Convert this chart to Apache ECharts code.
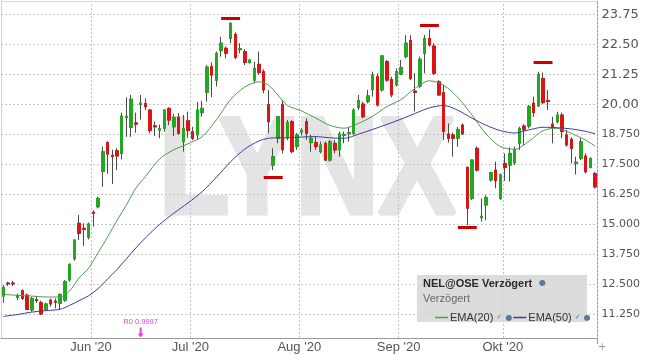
<!DOCTYPE html>
<html><head><meta charset="utf-8">
<script src="https://cdn.jsdelivr.net/npm/echarts@6/dist/echarts.min.js"></script>
<style>html,body{margin:0;padding:0;background:#fff}#c{width:645px;height:358px}</style>
</head><body><div id="c"></div>
<script>
// ---------- DATA ----------
const dates = [
'2020-05-04','2020-05-05','2020-05-06','2020-05-07','2020-05-08','2020-05-11','2020-05-12','2020-05-13','2020-05-14','2020-05-15',
'2020-05-18','2020-05-19','2020-05-20','2020-05-22','2020-05-25','2020-05-26','2020-05-27','2020-05-28','2020-05-29',
'2020-06-02','2020-06-03','2020-06-04','2020-06-05','2020-06-08','2020-06-09','2020-06-10','2020-06-11','2020-06-12','2020-06-15',
'2020-06-16','2020-06-17','2020-06-18','2020-06-19','2020-06-22','2020-06-23','2020-06-24','2020-06-25','2020-06-26','2020-06-29','2020-06-30',
'2020-07-01','2020-07-02','2020-07-03','2020-07-06','2020-07-07','2020-07-08','2020-07-09','2020-07-10','2020-07-13','2020-07-14',
'2020-07-15','2020-07-16','2020-07-17','2020-07-20','2020-07-21','2020-07-22','2020-07-23','2020-07-24','2020-07-27','2020-07-28',
'2020-07-29','2020-07-30','2020-07-31',
'2020-08-03','2020-08-04','2020-08-05','2020-08-06','2020-08-07','2020-08-10','2020-08-11','2020-08-12','2020-08-13','2020-08-14',
'2020-08-17','2020-08-18','2020-08-19','2020-08-20','2020-08-21','2020-08-24','2020-08-25','2020-08-26','2020-08-27','2020-08-28','2020-08-31',
'2020-09-01','2020-09-02','2020-09-03','2020-09-04','2020-09-07','2020-09-08','2020-09-09','2020-09-10','2020-09-11','2020-09-14',
'2020-09-15','2020-09-16','2020-09-17','2020-09-18','2020-09-21','2020-09-22','2020-09-23','2020-09-24','2020-09-25','2020-09-28',
'2020-09-29','2020-09-30',
'2020-10-01','2020-10-02','2020-10-05','2020-10-06','2020-10-07','2020-10-08','2020-10-09','2020-10-12','2020-10-13','2020-10-14',
'2020-10-15','2020-10-16','2020-10-19','2020-10-20','2020-10-21','2020-10-22','2020-10-23','2020-10-26','2020-10-27','2020-10-28'
];
const openP = [
11.99,12.53,12.53,11.93,12.21,12.03,11.41,11.84,11.71,11.43,11.82,11.77,11.69,11.82,12.66,13.54,15.03,14.82,14.45,
15.49,15.72,17.19,18.40,17.87,18.06,17.95,19.45,19.04,19.22,20.00,20.03,19.76,19.10,18.92,19.00,19.83,19.06,19.46,18.44,19.31,
18.85,18.72,19.65,20.50,21.57,21.00,22.24,22.34,22.75,22.92,22.28,22.20,21.74,21.01,21.67,21.36,19.98,17.46,18.58,20.00,18.62,19.27,18.23,
18.84,19.27,18.40,18.40,18.02,18.37,17.67,18.37,18.09,18.70,18.77,18.79,19.87,20.01,20.11,20.62,21.15,20.60,21.78,21.04,20.81,
21.26,21.99,22.66,20.55,20.76,22.13,22.75,22.43,20.94,20.49,18.76,18.72,18.58,19.13,17.37,16.07,18.16,15.28,15.79,16.84,17.25,16.07,
17.53,17.46,17.55,18.37,19.09,19.09,20.04,19.93,21.08,20.16,19.17,19.27,19.55,18.72,18.54,17.53,17.74,17.84,17.36,17.11
];
const closeP = [
12.35,12.50,12.50,12.00,11.89,11.43,11.89,11.80,11.24,11.66,11.66,11.73,12.06,12.59,13.31,14.33,14.61,14.78,15.00,
15.45,16.07,18.02,17.92,17.82,17.84,19.51,19.50,20.21,19.17,20.05,19.90,18.90,19.06,18.98,19.76,19.34,19.45,18.79,18.99,18.90,
18.58,19.76,19.83,21.55,21.22,22.13,22.55,22.13,23.38,21.96,22.32,21.75,21.85,21.50,21.33,20.60,19.27,17.81,19.48,18.10,19.23,18.02,18.72,
18.90,18.79,18.58,18.23,18.30,17.67,18.44,18.09,18.76,18.74,18.81,19.76,20.15,19.48,20.35,21.22,19.97,22.02,21.01,20.39,21.36,
21.54,22.55,21.08,20.50,21.88,22.75,22.48,21.29,20.39,18.86,18.58,18.58,18.95,18.76,15.66,17.67,17.25,15.32,16.11,17.14,16.81,17.05,
17.36,17.95,18.10,18.99,18.93,19.90,19.65,21.26,20.07,20.12,19.03,19.55,18.86,18.30,18.16,17.58,18.44,17.18,17.74,16.55
];
const lowP = [
11.71,12.41,12.41,11.82,11.82,11.41,11.34,11.71,11.20,11.38,11.55,11.48,11.41,11.75,12.59,13.47,14.33,14.08,14.36,
14.89,15.65,16.56,17.10,16.67,17.25,17.70,18.64,18.64,18.81,19.37,19.76,18.79,18.68,18.58,18.86,19.13,18.68,18.72,18.02,18.60,
18.50,18.50,19.48,20.11,20.30,20.74,21.99,21.92,22.55,21.88,22.13,21.64,21.70,20.87,21.22,20.46,18.79,17.25,18.37,17.95,18.50,17.95,18.10,
18.70,18.51,18.02,18.09,17.95,17.64,17.60,17.95,17.81,18.37,18.44,18.72,19.76,19.41,20.04,20.32,19.90,20.53,20.94,20.29,20.74,
21.22,21.92,21.01,19.70,20.67,21.29,22.41,21.22,20.35,18.51,18.40,17.81,18.23,18.72,14.96,16.00,17.19,15.10,15.16,16.77,16.49,16.00,
16.80,16.77,17.46,18.09,18.30,18.99,19.48,19.90,20.01,19.76,18.37,19.20,18.58,18.23,17.53,17.07,17.67,17.11,17.32,16.48
];
const highP = [
12.45,12.59,12.63,12.10,12.27,12.10,11.96,11.96,11.80,11.71,11.89,11.89,12.10,12.66,13.36,14.36,15.38,15.03,15.06,
15.58,16.14,18.23,18.45,18.10,18.16,19.65,20.29,20.39,19.65,20.39,20.25,19.79,19.28,19.15,19.79,19.87,19.59,19.63,19.55,19.69,
19.06,20.10,20.15,21.64,21.75,22.20,22.82,22.41,23.42,23.00,22.55,22.30,21.90,21.78,22.20,21.46,20.60,18.16,19.51,20.18,19.34,19.34,18.80,
19.00,19.41,18.72,18.65,18.44,18.44,18.51,18.51,18.86,18.86,19.06,19.83,20.39,20.11,20.60,21.36,21.29,22.06,21.85,21.15,21.50,
21.85,22.89,22.89,21.30,21.99,22.89,23.13,22.55,21.01,20.81,19.20,18.82,19.06,19.20,17.39,17.70,18.23,16.07,16.20,17.18,17.60,17.11,
17.95,18.20,18.23,19.06,19.17,19.97,20.32,21.36,21.32,20.59,19.48,19.69,19.65,18.93,18.62,17.81,18.58,17.95,17.78,17.18
];
// EMA readings (sampled candles)
const emaIdx  = [0,3,6,9,12,14,16,18,20,22,24,26,28,30,33,36,39,42,45,48,51,54,56,58,60,63,66,69,72,75,78,81,84,87,90,93,96,99,102,105,108,111,114,117,120,123,125];
const ema20Val = [12.06,12.02,11.99,11.95,11.95,12.2,12.75,13.15,13.8,14.45,15.15,15.8,16.5,16.98,17.72,18.1,18.35,18.65,19.35,20.2,20.72,20.94,20.8,20.38,19.95,19.72,19.42,19.12,19.0,19.2,19.5,19.9,20.2,20.67,20.98,20.8,20.28,19.55,18.75,18.23,18.12,18.45,18.9,19.0,18.78,18.5,18.25];
const ema50Val = [11.14,11.22,11.32,11.38,11.44,11.6,11.8,12.0,12.3,12.7,13.1,13.55,14.0,14.42,14.98,15.45,15.88,16.35,16.95,17.6,18.13,18.47,18.58,18.6,18.6,18.63,18.65,18.6,18.58,18.75,18.95,19.16,19.38,19.62,19.85,19.95,19.75,19.42,19.12,18.9,18.8,18.93,19.04,19.02,18.97,18.87,18.77];
// red high/low markers: [startIdx, endIdx, value]
const markerStart = [46, 55, 88, 112, 96];
const markerEnd   = [50, 59, 92, 116, 100];
const markerValue = [23.60, 16.95, 23.32, 21.77, 14.85];
// annotation
const annotIdx = 29, annotValue = 10.47, annotText = 'R0 0.9997';
// axis labels
const yTickValues = [11.25, 12.5, 13.75, 15, 16.25, 17.5, 18.75, 20, 21.25, 22.5, 23.75];
const yTickLabels = ['11.250','12.500','13.750','15.000','16.250','17.500','18.750','20.00','21.25','22.50','23.75'];
const monthNames = ["Jun '20","Jul '20","Aug '20","Sep '20","Okt '20"];

// ---------- BUILD ----------
const monthStart = {};
let mi = 0;
for (let i = 1; i < dates.length; i++) {
  if (dates[i].slice(5,7) !== dates[i-1].slice(5,7)) monthStart[i] = monthNames[mi++];
}
const wickData = dates.map((d,i)=>[openP[i], closeP[i], lowP[i], highP[i]]);
const bodyData = dates.map((d,i)=>[openP[i], closeP[i], Math.min(openP[i],closeP[i]), Math.max(openP[i],closeP[i])]);
const ema20 = dates.map(()=>'-'); const ema50 = dates.map(()=>'-');
emaIdx.forEach((k,j)=>{ ema20[k]=ema20Val[j]; ema50[k]=ema50Val[j]; });
const markLines = markerStart.map((s,j)=>[{coord:[s, markerValue[j]]},{coord:[markerEnd[j], markerValue[j]]}]);

const GREEN = '#23a823', RED = '#dc1414';
const chart = echarts.init(document.getElementById('c'));
chart.setOption({
  animation: false,
  backgroundColor: '#fff',
  grid: { left: 1, right: 47.5, top: 1.33, bottom: 14.3 },
  xAxis: {
    type: 'category', data: dates, boundaryGap: true, offset: -5.7,
    axisLine: { show: true, onZero: false, lineStyle: { color: '#9a9a9a', width: 1 } },
    axisTick: { show: true, inside: true, length: 337, interval: (i)=> monthStart[i] !== undefined,
                lineStyle: { color: '#c4c4c4', type: [2,2], width: 1 } },
    splitLine: { show: false },
    axisLabel: { interval: (i)=> monthStart[i] !== undefined, formatter: (v,i)=> monthStart[i] || '',
                 color: '#555', fontFamily: 'Liberation Sans', fontSize: 13, margin: 3, padding: [0, 4.7, 0, 0] }
  },
  yAxis: {
    type: 'value', position: 'right', min: 10, max: 24.3, interval: 1.25,
    axisLine: { show: true, lineStyle: { color: '#9a9a9a' } },
    axisTick: { show: false },
    splitLine: { show: true, showMinLine: false, showMaxLine: false, lineStyle: { color: '#c8c8c8', type: [2,2] } },
    axisLabel: {
      margin: 4, color: '#555',
      formatter: (v)=>{ const k = yTickValues.findIndex(t=>Math.abs(t-v)<1e-6); if (k<0) return ''; const s = yTickLabels[k]; return s.length>5 ? '{b|'+s+'}' : '{a|'+s+'}'; },
      rich: { a: { fontFamily: 'DejaVu Sans', fontSize: 13, color: '#555' }, b: { fontFamily: 'DejaVu Sans', fontSize: 11, color: '#555' } }
    }
  },
  legend: {
    z: 30, zlevel: 0,
    data: ['EMA(20)','EMA(50)'], left: 430, top: 307, itemWidth: 13, itemHeight: 1.5, itemGap: 1, icon: 'rect',
    selectedMode: false,
    formatter: (n)=> n + ' {k|✓} {o|●}',
    textStyle: { fontFamily: 'Liberation Sans', fontSize: 11, color: '#333', padding: [0,0,0,-3],
      rich: { k: { fontFamily: 'DejaVu Sans', fontSize: 7, color: '#4a7cc4' }, o: { fontFamily: 'DejaVu Sans', fontSize: 8, color: '#5a7898' } } }
  },
  graphic: [
    { type: 'text', z: -10, left: 157, top: 104, style: { text: 'LYNX', font: 'bold 137px "Liberation Sans"', fill: '#e4e4e4', stroke: '#e4e4e4', lineWidth: 5 }, scaleX: 0.84 },
    { type: 'line', z: 10, shape: { x1: 1.5, y1: 0, x2: 1.5, y2: 338 }, style: { stroke: '#d0d0d0', lineWidth: 1 } },
    { type: 'line', z: 10, shape: { x1: 1, y1: 1.5, x2: 597, y2: 1.5 }, style: { stroke: '#d8d8d8', lineWidth: 1 } },
    { type: 'rect', z: 20, shape: { x: 417, y: 275, width: 170, height: 47 }, style: { fill: 'rgba(214,214,214,0.85)' } },
    { type: 'text', z: 21, left: 423, top: 278, style: { text: 'NEL@OSE Verzögert', font: 'bold 11px "Liberation Sans"', fill: '#2a2a2a' } },
    { type: 'text', z: 21, left: 539, top: 279, style: { text: '●', font: '8px "DejaVu Sans"', fill: '#5a7898' } },
    { type: 'text', z: 21, left: 423, top: 293, style: { text: 'Verzögert', font: '11px "Liberation Sans"', fill: '#666' } },
    { type: 'text', z: 21, left: 598, top: 342, style: { text: '+', font: '10px "DejaVu Sans"', fill: '#999' } }
  ],
  series: [
    { name: 'wick', type: 'candlestick', data: wickData, barWidth: 3, z: 2,
      itemStyle: { color: '#4a4a4a', color0: '#4a4a4a', borderColor: '#4a4a4a', borderColor0: '#4a4a4a', borderWidth: 1 },
      markLine: { silent: true, symbol: 'none', label: { show: false }, lineStyle: { color: '#cc0000', width: 3, type: 'solid' }, data: markLines },
      markPoint: { silent: true, data: [{ coord: [annotIdx, annotValue], symbol: 'path://M2,0 L4,0 L4,6 L6,6 L3,10 L0,6 L2,6 Z', symbolSize: [6,10],
        itemStyle: { color: '#e040e0' }, label: { show: true, position: 'top', distance: 2, formatter: annotText, color: '#e040e0', fontSize: 7.5, fontFamily: 'Liberation Sans' } }] }
    },
    { name: 'body', type: 'candlestick', data: bodyData, barWidth: 3, z: 3,
      itemStyle: { color: GREEN, color0: RED, borderColor: GREEN, borderColor0: RED, borderWidth: 1 } },
    { name: 'EMA(20)', type: 'line', data: ema20, connectNulls: true, showSymbol: false, smooth: 0.3, z: 4,
      itemStyle: { color: '#4f9a4f' }, lineStyle: { color: '#4f9a4f', width: 1 } },
    { name: 'EMA(50)', type: 'line', data: ema50, connectNulls: true, showSymbol: false, smooth: 0.3, z: 4,
      itemStyle: { color: '#3c3caa' }, lineStyle: { color: '#3c3caa', width: 1 } }
  ]
});
</script></body></html>
